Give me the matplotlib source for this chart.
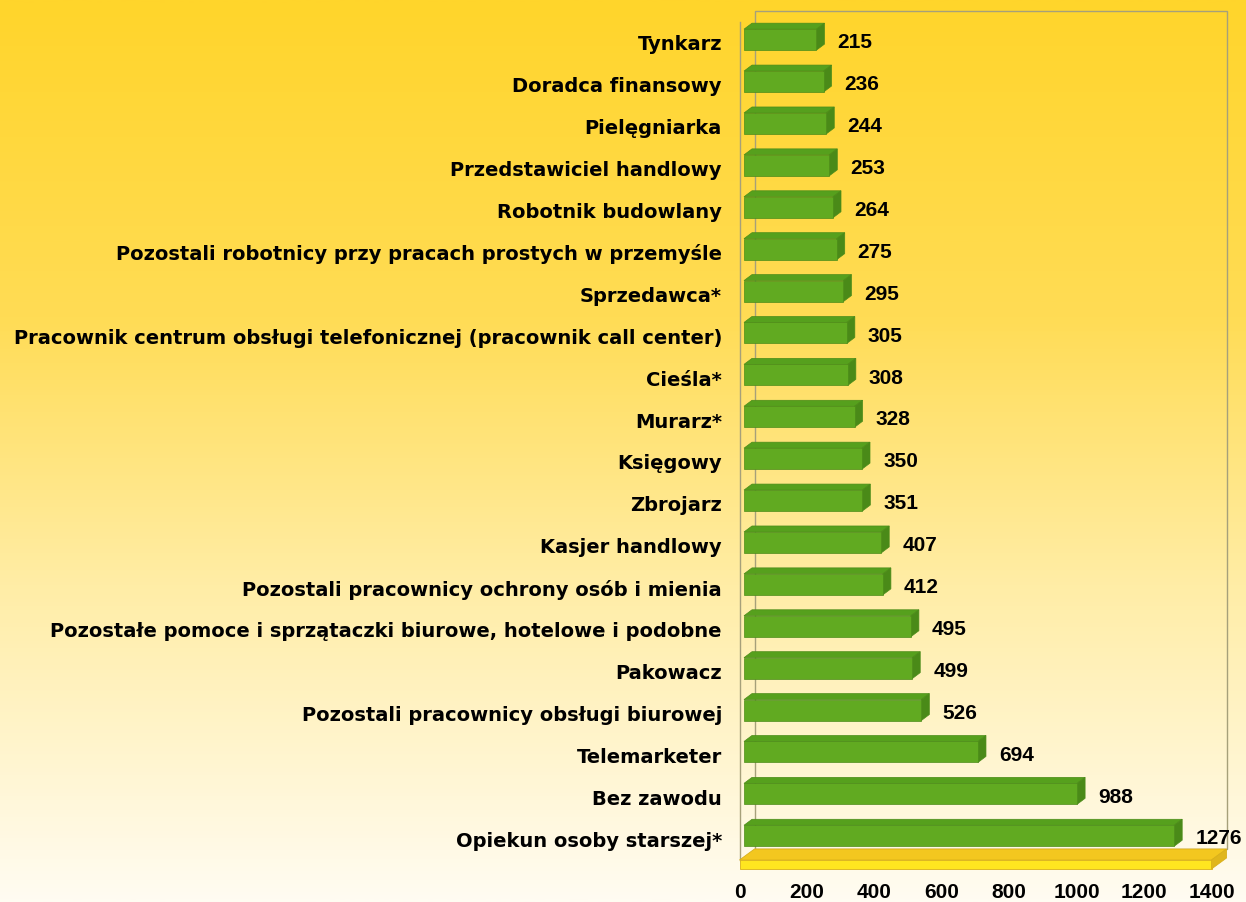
import numpy as np
import matplotlib
matplotlib.use("Agg")
import matplotlib.pyplot as plt
from matplotlib.patches import Polygon, Rectangle
from matplotlib.colors import LinearSegmentedColormap
from matplotlib.transforms import offset_copy

categories = [
    "Tynkarz",
    "Doradca finansowy",
    "Pielęgniarka",
    "Przedstawiciel handlowy",
    "Robotnik budowlany",
    "Pozostali robotnicy przy pracach prostych w przemyśle",
    "Sprzedawca*",
    "Pracownik centrum obsługi telefonicznej (pracownik call center)",
    "Cieśla*",
    "Murarz*",
    "Księgowy",
    "Zbrojarz",
    "Kasjer handlowy",
    "Pozostali pracownicy ochrony osób i mienia",
    "Pozostałe pomoce i sprzątaczki biurowe, hotelowe i podobne",
    "Pakowacz",
    "Pozostali pracownicy obsługi biurowej",
    "Telemarketer",
    "Bez zawodu",
    "Opiekun osoby starszej*",
]
values = [215, 236, 244, 253, 264, 275, 295, 305, 308, 328,
          350, 351, 407, 412, 495, 499, 526, 694, 988, 1276]
xticks = [0, 200, 400, 600, 800, 1000, 1200, 1400]

NUM_FONT = ['Liberation Sans', 'DejaVu Sans']
LAB_FONT = ['DejaVu Sans']
plt.rcParams['font.family'] = NUM_FONT

W_PX, H_PX = 1246, 902
fig = plt.figure(figsize=(W_PX / 100, H_PX / 100), dpi=100)

# background gradient
bg = fig.add_axes([0, 0, 1, 1], zorder=-10)
cmap = LinearSegmentedColormap.from_list(
    "bg", [(0.0, "#FFD52B"), (0.35, "#FFDC55"), (0.65, "#FFEDA6"), (1.0, "#FFFCF2")])
grad = np.linspace(0, 1, 512).reshape(-1, 1)
bg.imshow(grad, aspect="auto", cmap=cmap, extent=[0, 1, 0, 1], origin="upper")
bg.axis("off")

# front plane of the 3D plot area
left_px, right_px, top_px, bot_px = 739.5, 1211.5, 22, 860
ax = fig.add_axes([left_px / W_PX, (H_PX - bot_px) / H_PX,
                   (right_px - left_px) / W_PX, (bot_px - top_px) / H_PX])
ax.patch.set_alpha(0)
n = len(categories)
ax.set_xlim(0, 1400)
ax.set_ylim(n - 0.5, -0.5)
for s in ax.spines.values():
    s.set_visible(False)

ux = 1400 / (right_px - left_px)   # data units per pixel (x)
uy = n / (bot_px - top_px)          # slots per pixel (y)

wall_col = "#A6A07A"
# back wall (front plane shifted by depth)
dx_d, dy_d = 15, 11
back = offset_copy(ax.transData, fig=fig, x=dx_d, y=dy_d, units="dots")
ax.add_patch(Rectangle((0, -0.5), 1400, n, transform=back, fill=False,
                       edgecolor=wall_col, lw=1.0, clip_on=False, zorder=1))
# left wall line
ax.plot([0, 0], [-0.5, n - 0.5], color=wall_col, lw=1.0, clip_on=False, zorder=1)

# floor
fy = n - 0.5
fdx, fdy = dx_d * ux, dy_d * uy
fh = 9 * uy
ax.add_patch(Polygon([(0, fy), (1400, fy), (1400 + fdx, fy - fdy), (fdx, fy - fdy)],
                     closed=True, facecolor="#F3C71F", edgecolor="#D9B01A", lw=0.6,
                     clip_on=False, zorder=2))
ax.add_patch(Polygon([(0, fy), (1400, fy), (1400, fy + fh), (0, fy + fh)],
                     closed=True, facecolor="#FFE620", edgecolor="#D9B01A", lw=0.6,
                     clip_on=False, zorder=2))
ax.add_patch(Polygon([(1400, fy), (1400 + fdx, fy - fdy), (1400 + fdx, fy - fdy + fh),
                      (1400, fy + fh)],
                     closed=True, facecolor="#E0B61C", edgecolor="#D9B01A", lw=0.6,
                     clip_on=False, zorder=2))

# bars
sx, sy = 4.5 * ux, 3.3 * uy       # set back of the bar front face
bdx, bdy = 8 * ux, 6 * uy          # bar depth
bh = 0.5
front_c, top_c, side_c, edge_c = "#61AA21", "#56A01D", "#4A8A18", "#4C8C19"
for i, v in enumerate(values):
    yc = i - sy
    y0, y1 = yc - bh / 2, yc + bh / 2
    x0, x1 = sx, sx + v
    ax.add_patch(Polygon([(x0, y0), (x1, y0), (x1 + bdx, y0 - bdy), (x0 + bdx, y0 - bdy)],
                         closed=True, facecolor=top_c, edgecolor=edge_c, lw=0.5,
                         clip_on=False, zorder=3))
    ax.add_patch(Polygon([(x1, y0), (x1 + bdx, y0 - bdy), (x1 + bdx, y1 - bdy), (x1, y1)],
                         closed=True, facecolor=side_c, edgecolor=edge_c, lw=0.5,
                         clip_on=False, zorder=3))
    ax.add_patch(Rectangle((x0, y0), v, bh, facecolor=front_c, edgecolor=edge_c,
                           lw=0.5, clip_on=False, zorder=4))
    ax.text(x1 + bdx + 13 * ux, yc + 3.2 * uy, str(v), ha="left", va="center",
            fontsize=15, fontweight="bold", color="black", zorder=5)

ax.set_xticks(xticks)
ax.set_xticklabels([str(t) for t in xticks], fontsize=15, fontweight="bold")
ax.tick_params(axis="x", length=0, pad=16.5)

ax.set_yticks(range(n))
base = 13.5
ylabs = ax.set_yticklabels(categories, fontsize=base, fontweight="bold", family=LAB_FONT)
ax.tick_params(axis="y", length=0, pad=12.6)

# fit label size so the widest label spans the same width as in the reference
fig.canvas.draw()
r = fig.canvas.get_renderer()
wmax = max(t.get_window_extent(r).width for t in ylabs)
target = 722 - 12
size = base * target / wmax
for t in ylabs:
    t.set_fontsize(size)

fig.savefig("out.png", dpi=100)
